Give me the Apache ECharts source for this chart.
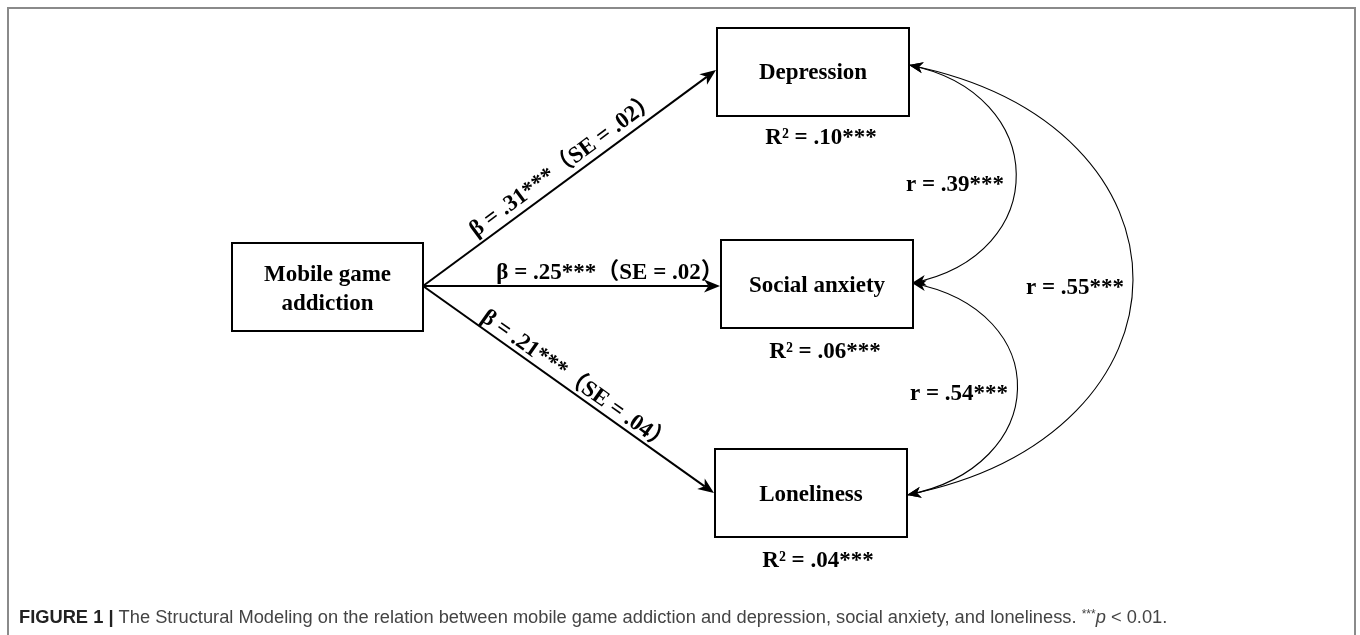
<!DOCTYPE html>
<html><head><meta charset="utf-8">
<script src="https://cdn.jsdelivr.net/npm/echarts@6/dist/echarts.min.js"></script>
<style>html,body{margin:0;padding:0;background:#fff}#c{width:1360px;height:635px}</style>
</head><body><div id="c"></div>
<script>
// ---- data ----
const nodeNames = ['Mobile game addiction', 'Depression', 'Social anxiety', 'Loneliness'];
const nodeLabels = ['Mobile game\naddiction', 'Depression', 'Social anxiety', 'Loneliness'];
const rSquared = ['', '.10', '.06', '.04'];
const pathSource = 'Mobile game addiction';
const pathTargets = ['Depression', 'Social anxiety', 'Loneliness'];
const betaValues = ['.31', '.25', '.21'];
const seValues = ['.02', '.02', '.04'];
const corrPairs = [['Depression', 'Social anxiety'], ['Social anxiety', 'Loneliness'], ['Depression', 'Loneliness']];
const corrValues = ['.39', '.54', '.55'];
const sigMark = '***';
const captionBold = 'FIGURE 1 |';
const captionText = ' The Structural Modeling on the relation between mobile game addiction and depression, social anxiety, and loneliness. ';
const captionNote = ' < 0.01.';

// ---- layout (diagram coordinates, y downward) ----
const nodeLayout = {
  'Mobile game addiction': { x0: 232, y0: 243, x1: 423, y1: 331, out: [423, 286], textY: 289.5 },
  'Depression':     { x0: 717, y0: 28,  x1: 909, y1: 116, in: [716, 70],  right: [909, 65],  textY: 73,  r2: [821, 138] },
  'Social anxiety': { x0: 721, y0: 240, x1: 913, y1: 328, in: [720, 286], right: [912, 283], textY: 286, r2: [825, 352] },
  'Loneliness':     { x0: 715, y0: 449, x1: 907, y1: 537, in: [714, 493], right: [907, 495], textY: 495, r2: [818, 561] }
};
const pathLabelPos = [[564, 165], [610, 273], [576, 381]];
const corrBulge = [141, 144, 300];
const corrDrop = [28, 28, 60];
const corrLabelPos = [[955, 185], [959, 394], [1075, 288]];

const SERIF = "'Liberation Serif','Times New Roman','Noto Sans CJK SC',serif";
const SANS = "'Liberation Sans',Arial,sans-serif";

function arrowHead(tip, from, len, half) {
  const dx = tip[0] - from[0], dy = tip[1] - from[1];
  const d = Math.hypot(dx, dy) || 1;
  const ux = dx / d, uy = dy / d, px = -uy, py = ux;
  const bx = tip[0] - ux * len, by = tip[1] - uy * len;
  const nx = tip[0] - ux * len * 0.72, ny = tip[1] - uy * len * 0.72;
  return {
    points: [tip, [bx + px * half, by + py * half], [nx, ny], [bx - px * half, by - py * half]],
    base: [nx, ny]
  };
}

const chart = echarts.init(document.getElementById('c'), null, { renderer: 'canvas' });

const option = {
  animation: false,
  backgroundColor: '#fff',
  grid: { left: 0, right: 0, top: 0, bottom: 0 },
  xAxis: { type: 'value', min: 0, max: 1360, show: false },
  yAxis: { type: 'value', min: 0, max: 635, inverse: true, show: false },
  graphic: [
    { type: 'rect', shape: { x: 8, y: 8, width: 1347, height: 660 }, style: { fill: 'none', stroke: '#8a8a8a', lineWidth: 2 }, z: 0 },
    {
      type: 'text', x: 19, y: 618,
      style: {
        text: '{b|' + captionBold + '}{n|' + captionText + '}{s|' + sigMark + '}{i|p}{n|' + captionNote + '}',
        verticalAlign: 'middle',
        rich: {
          b: { fontFamily: SANS, fontWeight: 'bold', fontSize: 18.3, fill: '#222' },
          n: { fontFamily: SANS, fontSize: 18.3, fill: '#444' },
          s: { fontFamily: SANS, fontSize: 12, fill: '#444', verticalAlign: 'top', padding: [0, 0, 7, 0] },
          i: { fontFamily: SANS, fontStyle: 'italic', fontSize: 18.3, fill: '#444' }
        }
      }
    }
  ],
  series: [
    {
      // regression paths
      type: 'custom', coordinateSystem: 'cartesian2d', silent: true, z: 2,
      data: pathTargets.map((t, i) => [i]),
      renderItem: function (params, api) {
        const i = api.value(0);
        const src = nodeLayout[pathSource].out;
        const dst = nodeLayout[pathTargets[i]].in;
        const p0 = api.coord(src), p1 = api.coord(dst);
        const ah = arrowHead(p1, p0, 16, 6.5);
        const lp = api.coord(pathLabelPos[i]);
        const ang = -Math.atan2(p1[1] - p0[1], p1[0] - p0[0]);
        return {
          type: 'group',
          children: [
            { type: 'line', shape: { x1: p0[0], y1: p0[1], x2: ah.base[0], y2: ah.base[1] }, style: { stroke: '#000', lineWidth: 2 } },
            { type: 'polygon', shape: { points: ah.points }, style: { fill: '#000' } },
            {
              type: 'text', x: lp[0], y: lp[1], rotation: ang,
              style: {
                text: 'β = ' + betaValues[i] + sigMark + '（SE = ' + seValues[i] + '）',
                fontFamily: SERIF, fontWeight: 'bold', fontSize: 23, fill: '#000',
                align: 'center', verticalAlign: 'middle'
              }
            }
          ]
        };
      }
    },
    {
      // correlations
      type: 'custom', coordinateSystem: 'cartesian2d', silent: true, z: 2,
      data: corrPairs.map((p, i) => [i]),
      renderItem: function (params, api) {
        const i = api.value(0);
        const a = nodeLayout[corrPairs[i][0]].right, b = nodeLayout[corrPairs[i][1]].right;
        const k = corrBulge[i], m = corrDrop[i];
        const P0 = api.coord(a), P3 = api.coord(b);
        const P1 = api.coord([a[0] + k, a[1] + m]), P2 = api.coord([b[0] + k, b[1] - m]);
        const h0 = arrowHead(P0, P1, 14, 5.5), h1 = arrowHead(P3, P2, 14, 5.5);
        const lp = api.coord(corrLabelPos[i]);
        return {
          type: 'group',
          children: [
            { type: 'bezierCurve', shape: { x1: P0[0], y1: P0[1], cpx1: P1[0], cpy1: P1[1], cpx2: P2[0], cpy2: P2[1], x2: P3[0], y2: P3[1] }, style: { stroke: '#000', lineWidth: 1.1, fill: null } },
            { type: 'polygon', shape: { points: h0.points }, style: { fill: '#000' } },
            { type: 'polygon', shape: { points: h1.points }, style: { fill: '#000' } },
            {
              type: 'text', x: lp[0], y: lp[1],
              style: { text: 'r = ' + corrValues[i] + sigMark, fontFamily: SERIF, fontWeight: 'bold', fontSize: 23, fill: '#000', align: 'center', verticalAlign: 'middle' }
            }
          ]
        };
      }
    },
    {
      // variable boxes
      type: 'custom', coordinateSystem: 'cartesian2d', silent: true, z: 3,
      data: nodeNames.map((n, i) => [i]),
      renderItem: function (params, api) {
        const i = api.value(0);
        const n = nodeLayout[nodeNames[i]];
        const a = api.coord([n.x0, n.y0]), b = api.coord([n.x1, n.y1]);
        const tc = api.coord([(n.x0 + n.x1) / 2, n.textY]);
        const children = [
          { type: 'rect', shape: { x: a[0], y: a[1], width: b[0] - a[0], height: b[1] - a[1] }, style: { fill: '#fff', stroke: '#000', lineWidth: 2 } },
          { type: 'text', x: tc[0], y: tc[1], style: { text: nodeLabels[i], fontFamily: SERIF, fontWeight: 'bold', fontSize: 23, lineHeight: 29, fill: '#000', align: 'center', verticalAlign: 'middle' } }
        ];
        if (rSquared[i]) {
          const rp = api.coord(n.r2);
          children.push({ type: 'text', x: rp[0], y: rp[1], style: { text: 'R² = ' + rSquared[i] + sigMark, fontFamily: SERIF, fontWeight: 'bold', fontSize: 23, fill: '#000', align: 'center', verticalAlign: 'middle' } });
        }
        return { type: 'group', children: children };
      }
    }
  ]
};
chart.setOption(option);
</script>
</body></html>
